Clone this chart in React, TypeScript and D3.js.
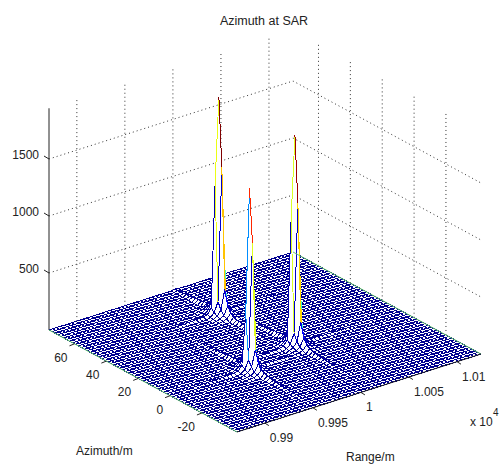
import * as d3 from "d3";

const W = 499, H = 466;

const rangeDomain = [9871, 10125];
const azimuthDomain = [76, -42];
const zTop = 1945;
const rangeTicks = [9900, 9950, 10000, 10050, 10100];
const rangeLabels = ["0.99", "0.995", "1", "1.005", "1.01"];
const azimuthTicks = [60, 40, 20, 0, -20];
const zTicks = [500, 1000, 1500];
const gridSize = 64;

// target centres
const targetRanges = [10000, 9954, 10015];
const targetAzimuths = [49, 0, 7];

// z around each target: rows run along azimuth, columns along range (centre = target)
const patchA = [
  [4, 8, 16, 34, 14, 7, 4],
  [6, 14, 30, 70, 28, 12, 6],
  [10, 26, 60, 165, 55, 24, 9],
  [14, 40, 120, 430, 110, 36, 12],
  [24, 70, 1150, 1900, 850, 60, 22],
  [14, 44, 130, 1300, 125, 40, 13],
  [10, 28, 70, 240, 64, 26, 10],
  [7, 16, 36, 110, 32, 14, 7],
  [4, 9, 20, 60, 18, 8, 4],
];
const patchB = [
  [4, 7, 14, 30, 13, 6, 3],
  [5, 12, 26, 62, 24, 11, 5],
  [8, 22, 52, 140, 48, 20, 8],
  [12, 34, 105, 400, 95, 30, 11],
  [20, 60, 500, 1590, 430, 52, 18],
  [12, 38, 110, 1130, 105, 34, 11],
  [9, 24, 60, 205, 56, 22, 9],
  [6, 14, 30, 95, 28, 12, 6],
  [4, 8, 18, 52, 16, 7, 3],
];
const patchC = [
  [4, 8, 15, 33, 14, 7, 4],
  [6, 13, 29, 68, 27, 12, 6],
  [10, 25, 58, 160, 54, 23, 9],
  [13, 38, 115, 420, 105, 34, 12],
  [23, 68, 1120, 1840, 820, 58, 21],
  [13, 42, 125, 1260, 120, 38, 13],
  [10, 27, 68, 230, 62, 25, 10],
  [7, 15, 35, 105, 31, 14, 7],
  [4, 9, 19, 58, 17, 8, 4],
];
const patches = [patchA, patchB, patchC];

// low sidelobes running away from each target
const rangeTail = [14, 10, 12, 7, 9, 5, 7, 4, 5, 3, 4, 2];
const azimuthTail = [38, 26, 30, 18, 20, 12, 14, 8, 9, 5, 6, 3, 4, 2];

const origin = { x: 49, y: 330 };
const rangeVec = { x: 244, y: -78 };
const azVec = { x: 188, y: 102 };

const rangeT = d3.scaleLinear().domain(rangeDomain).range([0, 1]);
const azT = d3.scaleLinear().domain(azimuthDomain).range([0, 1]);
const zPx = d3.scaleLinear().domain([0, 500]).range([0, 57]);
const colour = d3
  .scaleLinear<string>()
  .domain([0, 0.125, 0.375, 0.625, 0.875, 1].map((d) => d * 1900))
  .range(["#00008f", "#0000ff", "#00ffff", "#ffff00", "#ff0000", "#800000"])
  .clamp(true);

function project(r: number, a: number, z = 0): [number, number] {
  const tr = rangeT(r), ta = azT(a);
  return [
    origin.x + tr * rangeVec.x + ta * azVec.x,
    origin.y + tr * rangeVec.y + ta * azVec.y - zPx(z),
  ];
}

const rangeGrid = d3.range(gridSize + 1).map((i) => rangeDomain[0] + ((rangeDomain[1] - rangeDomain[0]) * i) / gridSize);
const azGrid = d3.range(gridSize + 1).map((j) => azimuthDomain[0] + ((azimuthDomain[1] - azimuthDomain[0]) * j) / gridSize);

function buildZ() {
  const zz = rangeGrid.map(() => azGrid.map(() => 0));
  const bump = (i: number, j: number, v: number) => {
    if (zz[i] && zz[i][j] !== undefined) zz[i][j] = Math.max(zz[i][j], v);
  };
  patches.forEach((patch, k) => {
    const ci = d3.bisectCenter(rangeGrid, targetRanges[k]);
    const cj = d3.minIndex(azGrid, (a) => Math.abs(a - targetAzimuths[k]));
    rangeTail.forEach((v, n) => {
      bump(ci + n + 4, cj, v);
      bump(ci - n - 4, cj, v);
    });
    azimuthTail.forEach((v, n) => {
      bump(ci, cj + n + 5, v);
      bump(ci, cj - n - 5, v);
    });
    patch.forEach((row, dj) => row.forEach((v, di) => bump(ci + di - 3, cj + dj - 4, v)));
  });
  return zz;
}

const zValues = buildZ();

function Mesh() {
  const line = d3.line();
  const quads: React.ReactElement[] = [];
  // back to front: far range and far azimuth first
  for (let i = gridSize - 1; i >= 0; i--) {
    for (let j = 0; j < gridSize; j++) {
      const p00 = project(rangeGrid[i], azGrid[j], zValues[i][j]);
      const p10 = project(rangeGrid[i + 1], azGrid[j], zValues[i + 1][j]);
      const p01 = project(rangeGrid[i], azGrid[j + 1], zValues[i][j + 1]);
      const p11 = project(rangeGrid[i + 1], azGrid[j + 1], zValues[i + 1][j + 1]);
      const k = `${i}-${j}`;
      quads.push(<path key={k} d={line([p00, p10, p11, p01])! + "Z"} fill="#fff" stroke="none" />);
      const edges: [[number, number], [number, number], number][] = [
        [p00, p10, zValues[i][j]],
        [p00, p01, zValues[i][j]],
        [p10, p11, zValues[i + 1][j]],
        [p01, p11, zValues[i][j + 1]],
      ];
      edges.forEach((e, n) => (
        quads.push(<path key={k + "e" + n} d={line([e[0], e[1]])!} fill="none" stroke={colour(e[2])} />)
      ));
    }
  }
  return <g shapeRendering="crispEdges">{quads}</g>;
}

const textColour = "#222";

export default function App() {
  const backR = rangeDomain[1];
  const backA = azimuthDomain[0];
  const frontA = azimuthDomain[1];
  const frontR = rangeDomain[0];
  const line = d3.line();

  return (
    <svg
      width={W}
      height={H}
      style={{ position: "absolute", left: 0, top: 0, background: "#fff" }}
      fontFamily="'Liberation Sans', Arial, sans-serif"
      fontSize={12}
      fill={textColour}
    >
      <text x={264} y={25} textAnchor="middle" fontSize={12.5}>Azimuth at SAR</text>

      {/* back walls */}
      <g fill="none" stroke="#333" strokeDasharray="1 3">
        {rangeTicks.map((t) => (
          <path key={t} d={line([project(t, backA), project(t, backA, zTop)])!} />
        ))}
        {azimuthTicks.map((t) => (
          <path key={t} d={line([project(backR, t), project(backR, t, zTop)])!} />
        ))}
        {zTicks.map((t) => (
          <path key={t} d={line([project(frontR, backA, t), project(backR, backA, t), project(backR, frontA, t)])!} />
        ))}
      </g>

      {/* z axis */}
      <path d={line([project(frontR, backA), project(frontR, backA, zTop)])!} stroke="#222" fill="none" />
      {zTicks.map((t) => {
        const [x, y] = project(frontR, backA, t);
        return (
          <g key={t}>
            <path d={`M${x},${y}L${x - 5},${y - 3}`} stroke="#222" fill="none" />
            <text x={x - 10} y={y} textAnchor="end">{t}</text>
          </g>
        );
      })}

      <Mesh />

      {/* floor outline */}
      <path d={line([project(frontR, backA), project(frontR, frontA)])!} stroke="#6fcf6f" fill="none" />
      <path d={line([project(backR, backA), project(backR, frontA)])!} stroke="#6fcf6f" fill="none" />
      <path d={line([project(frontR, frontA), project(backR, frontA)])!} stroke="#222" fill="none" />

      {azimuthTicks.map((t) => {
        const [x, y] = project(frontR, t);
        return (
          <g key={t}>
            <path d={`M${x},${y}L${x - 5},${y + 2}`} stroke="#222" fill="none" />
            <text x={x - 7} y={y + 18} textAnchor="end">{t}</text>
          </g>
        );
      })}
      {rangeTicks.map((t, n) => {
        const [x, y] = project(t, frontA);
        return (
          <g key={t}>
            <path d={`M${x},${y}L${x + 4},${y + 2.5}`} stroke="#222" fill="none" />
            <text x={x + 5} y={y + 19}>{rangeLabels[n]}</text>
          </g>
        );
      })}

      <text x={76} y={455}>Azimuth/m</text>
      <text x={346} y={461}>Range/m</text>
      <text x={470} y={426}>x 10</text>
      <text x={493} y={416} fontSize={10}>4</text>
    </svg>
  );
}
